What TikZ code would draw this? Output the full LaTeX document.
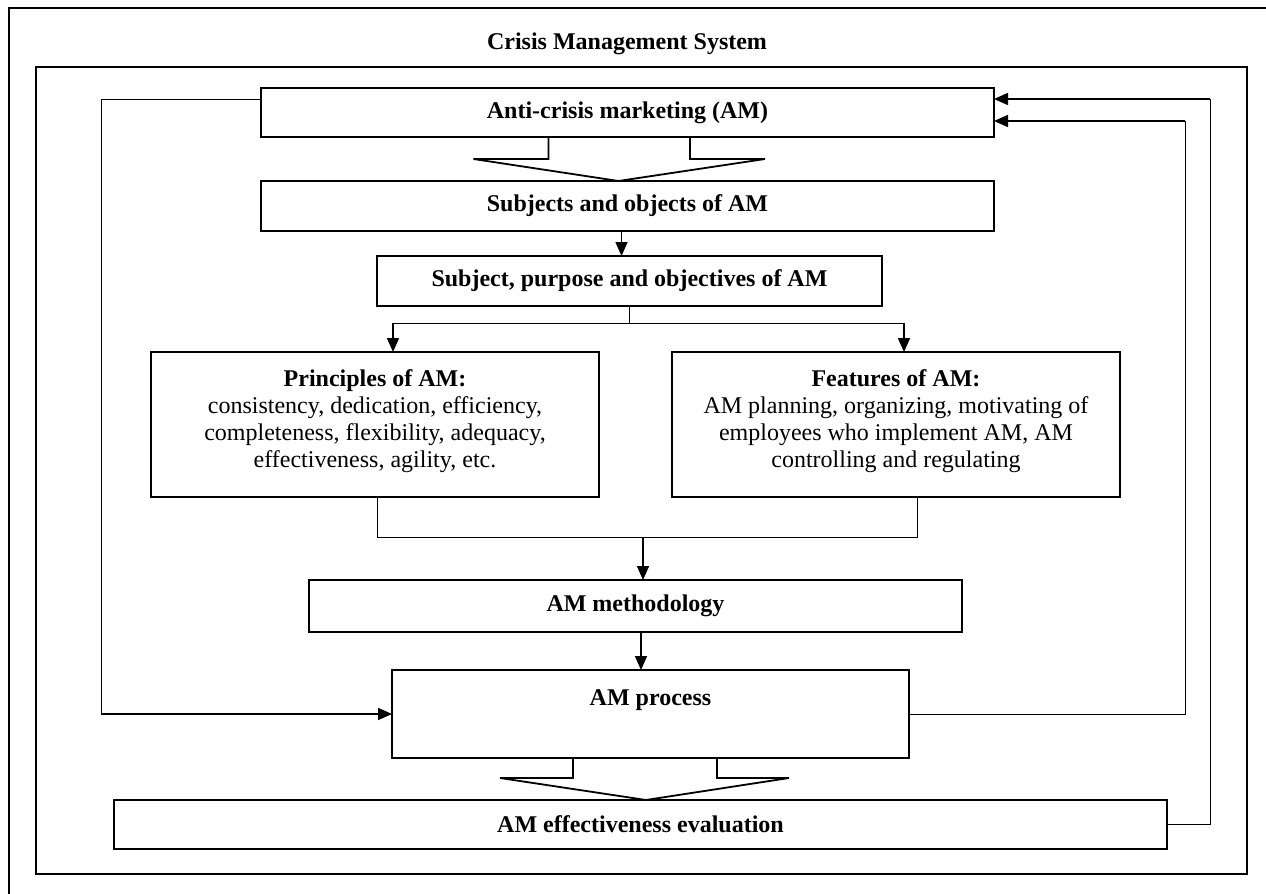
\documentclass[tikz,border=0pt]{standalone}
\usepackage{fontspec}
\setmainfont{Liberation Serif}
\usetikzlibrary{arrows.meta, positioning}

\begin{document}
\begin{tikzpicture}[
    node distance=12pt,
    block/.style={rectangle, draw, line width=0.85pt, inner sep=2pt, outer sep=0pt, align=center, font=\fontsize{12}{13.5}\selectfont},
    bold/.style={font=\fontsize{12}{13.5}\selectfont\bfseries},
    arrow/.style={-{Triangle[length=7pt, width=6pt]}, line width=0.8pt},
    link/.style={line width=0.45pt},
    hollow/.style={line width=0.9pt, line join=miter},
    frame/.style={line width=0.9pt},
]

\useasboundingbox (0,0) rectangle (633pt,-447pt);

% Frames
\draw[frame] (4.5pt,-447pt) -- (4.5pt,-4pt) -- (633pt,-4pt);
\draw[frame] (18pt,-33.5pt) rectangle (623.5pt,-437pt);
\node[bold] (cms) at (313.5pt,-22pt) {Crisis Management System};

% Main column
\node[block, bold, minimum width=366.5pt, minimum height=24.5pt] (am) at (313.75pt,-56.25pt) {Anti-crisis marketing (AM)};
\node[block, bold, minimum width=366.5pt, minimum height=25pt, below=22pt of am] (subj) {Subjects and objects of AM};
\node[block, bold, minimum width=252.5pt, minimum height=25pt, below=12.5pt of subj, xshift=1pt] (purp) {Subject, purpose and objectives of AM};

% Two branches
\node[block, minimum width=224pt, minimum height=72.5pt, text depth=6pt, below=23pt of purp, xshift=-127.25pt] (princ) {\textbf{Principles of AM:}\\consistency, dedication, efficiency,\\completeness, flexibility, adequacy,\\effectiveness, agility, etc.};
\node[block, minimum width=224pt, minimum height=72.5pt, text depth=6pt, below=23pt of purp, xshift=133.25pt] (feat) {\textbf{Features of AM:}\\AM planning, organizing, motivating of\\employees who implement AM, AM\\controlling and regulating};

\coordinate (join) at ([yshift=-20pt]princ.south);
\coordinate (mid) at (join -| purp.south);

% Lower column
\node[block, bold, minimum width=326.5pt, minimum height=26pt, below=21.5pt of mid, xshift=3pt] (meth) {AM methodology};
\node[block, bold, minimum width=258.5pt, minimum height=44pt, text depth=16pt, below=19pt of meth, xshift=7.5pt] (proc) {AM process};
\node[block, bold, minimum width=526.5pt, minimum height=24.5pt, below=21pt of proc, xshift=-5pt] (eval) {AM effectiveness evaluation};

% Open arrow am -> subj
\draw[hollow] ([xshift=-39.5pt]am.south) -- ([xshift=-39.5pt, yshift=-11pt]am.south) -- ([xshift=-77pt, yshift=-11pt]am.south)
    -- ([xshift=-4.5pt]subj.north) -- ([xshift=68.75pt, yshift=-11pt]am.south) -- ([xshift=31.25pt, yshift=-11pt]am.south) -- ([xshift=31.25pt]am.south);

\draw[arrow] ([xshift=-3pt]subj.south) -- ([xshift=-4pt]purp.north);

% Split to principles and features
\coordinate (split) at ([yshift=-8.5pt]purp.south);
\coordinate (pl) at ([xshift=9pt]princ.north);
\coordinate (fl) at ([xshift=4pt]feat.north);
\draw[link] (purp.south) -- (split);
\draw[link] (pl |- split) -- (fl |- split);
\draw[arrow] (pl |- split) -- (pl);
\draw[arrow] (fl |- split) -- (fl);

% Merge into methodology
\coordinate (pb) at ([xshift=1pt]princ.south);
\coordinate (fb) at ([xshift=10.5pt]feat.south);
\coordinate (mt) at ([xshift=3.75pt]meth.north);
\draw[link] (pb) |- (join -| fb) -- (fb);
\draw[arrow] (mt |- join) -- (mt);

\draw[arrow] ([xshift=2.75pt]meth.south) -- ([xshift=-4.75pt]proc.north);

% Open arrow proc -> eval
\draw[hollow] ([xshift=-38.75pt]proc.south) -- ([xshift=-38.75pt, yshift=-10pt]proc.south) -- ([xshift=-75.25pt, yshift=-10pt]proc.south)
    -- ([xshift=2.75pt]eval.north) -- ([xshift=69.25pt, yshift=-10pt]proc.south) -- ([xshift=33.25pt, yshift=-10pt]proc.south) -- ([xshift=33.25pt]proc.south);

% Feedback loops
\coordinate (amle) at ([yshift=6.75pt]am.west);
\coordinate (amhi) at ([yshift=6.75pt]am.east);
\coordinate (amlo) at ([yshift=-4.25pt]am.east);
\coordinate (lx) at ([xshift=-80pt]am.west);
\coordinate (rx1) at ([xshift=95.5pt]am.east);
\coordinate (rx2) at ([xshift=108pt]am.east);

\draw[link] (amle) -| (lx |- proc.west);
\draw[arrow] (lx |- proc.west) -- (proc.west);
\draw[link] (proc.east) -| (rx1 |- amlo);
\draw[arrow] (rx1 |- amlo) -- (amlo);
\draw[link] (eval.east) -| (rx2 |- amhi);
\draw[arrow] (rx2 |- amhi) -- (amhi);

\end{tikzpicture}
\end{document}
